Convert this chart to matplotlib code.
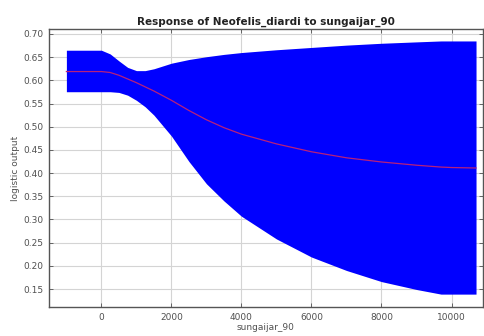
import numpy as np
import matplotlib
matplotlib.use('Agg')
import matplotlib.pyplot as plt
from matplotlib.ticker import FormatStrFormatter

# response curve (common x grid for band + mean)
x_vals = [-1000, 0, 250, 500, 750, 1000, 1250, 1500, 2000, 2500, 3000, 3500, 4000,
          5000, 6000, 7000, 8000, 9000, 9700, 10000, 10700]
upper  = [0.665, 0.665, 0.657, 0.642, 0.628, 0.621, 0.621, 0.625, 0.637, 0.645, 0.651, 0.656, 0.660,
          0.666, 0.671, 0.676, 0.680, 0.683, 0.685, 0.685, 0.685]
lower  = [0.5755, 0.5755, 0.5755, 0.574, 0.568, 0.557, 0.543, 0.525, 0.480, 0.425, 0.377, 0.340, 0.307,
          0.258, 0.219, 0.190, 0.166, 0.149, 0.139, 0.139, 0.139]
mean   = [0.619, 0.619, 0.617, 0.611, 0.603, 0.595, 0.586, 0.577, 0.557, 0.535, 0.515, 0.498, 0.484,
          0.463, 0.446, 0.433, 0.424, 0.417, 0.413, 0.412, 0.411]

title  = 'Response of Neofelis_diardi to sungaijar_90'
xlabel = 'sungaijar_90'
ylabel = 'logistic output'
xticks = [0, 2000, 4000, 6000, 8000, 10000]
yticks = [0.15, 0.20, 0.25, 0.30, 0.35, 0.40, 0.45, 0.50, 0.55, 0.60, 0.65, 0.70]

TXT = '#505050'
fig = plt.figure(figsize=(4.84, 3.36), dpi=100)
ax = fig.add_axes([0.101, 0.086, 0.897, 0.828])

ax.fill_between(x_vals, lower, upper, color='#0000ff', lw=0, zorder=2)
ax.plot(x_vals, mean, color='#b8207a', lw=0.9, zorder=3)

ax.set_xlim(-1500, 10900)
ax.set_ylim(0.111, 0.711)
ax.set_xticks(xticks)
ax.set_yticks(yticks)
ax.yaxis.set_major_formatter(FormatStrFormatter('%.2f'))
ax.grid(True, color='#d4d4d4', lw=0.8, zorder=0)
ax.set_axisbelow(True)
ax.tick_params(direction='in', length=3, width=0.6, labelsize=6.5, colors=TXT,
               top=True, right=True, pad=4)
for s in ax.spines.values():
    s.set_color('#555555'); s.set_linewidth(1.0)

ax.set_title(title, fontsize=7.5, fontweight='heavy', color='#222222', pad=3)
ax.set_xlabel(xlabel, fontsize=6.5, color=TXT, labelpad=1)
ax.set_ylabel(ylabel, fontsize=6.5, color=TXT, labelpad=2)

fig.savefig('out.png', dpi=100)
